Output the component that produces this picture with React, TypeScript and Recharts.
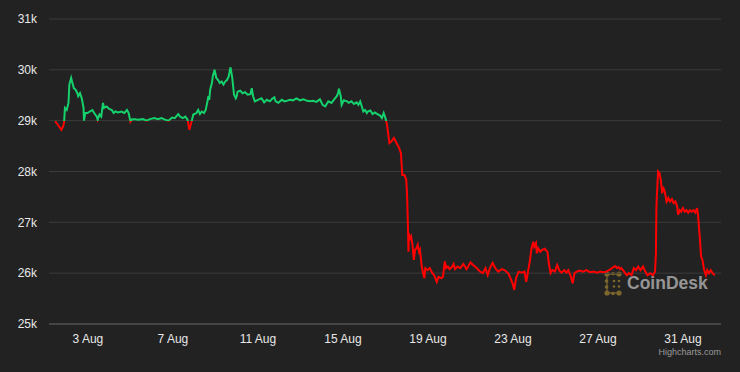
import React from 'react';
import { LineChart, Line, XAxis, YAxis, CartesianGrid } from 'recharts';

// x values: hours since 1 Aug 00:00
const hoursWeek1 = [
  11, 14, 18, 20, 21, 22, 24, 26, 27, 29,
  30, 32, 34, 36, 37, 39, 41, 43, 43.5, 45,
  47.5, 50, 53, 55, 58, 59, 61, 63, 65, 66,
  69, 72, 75, 77, 79, 82, 86, 89, 92, 94,
  96, 98, 101, 104.5, 110, 114, 118, 123, 127, 131,
  135, 139,
];
const pricesWeek1 = [
  28990, 28920, 28820, 28890, 28960, 29250, 29210, 29350, 29710, 29840,
  29770, 29640, 29610, 29540, 29480, 29540, 29440, 29250, 29000, 29150,
  29150, 29180, 29210, 29150, 29080, 29020, 29120, 29080, 29350, 29250,
  29280, 29230, 29210, 29150, 29180, 29160, 29180, 29150, 29210, 29150,
  28980, 29030, 29030, 29020, 29030, 29000, 29030, 29050, 29030, 29050,
  29020, 29000,
];

const hoursWeek2 = [
  143, 146, 150, 152, 155, 158, 160.5, 162.5, 164.5, 167,
  170.5, 172.5, 174.5, 176.5, 179, 181, 183, 184, 185, 186,
  188, 189, 191, 193, 195, 197, 199, 201, 203, 205,
  207, 209, 211, 212, 213, 215, 216, 217, 220, 222.5,
  225.5, 228.5, 231.5, 233, 234.5, 236.5, 240, 244, 247, 250,
  253.5, 256, 258.5, 260, 263, 267, 270,
];
const pricesWeek2 = [
  29060, 29050, 29130, 29080, 29050, 29080, 29020, 28820, 28950, 29120,
  29150, 29210, 29130, 29180, 29150, 29210, 29380, 29480, 29410, 29610,
  29740, 29870, 30000, 29840, 29800, 29740, 29770, 29710, 29770, 29800,
  29870, 30050, 29840, 29670, 29510, 29440, 29480, 29570, 29590, 29540,
  29560, 29510, 29520, 29640, 29480, 29380, 29410, 29440, 29360, 29410,
  29380, 29430, 29460, 29380, 29350, 29410, 29380,
];

const hoursWeek3 = [
  272.5, 276, 279.5, 283.5, 287.5, 291.5, 295.5, 299, 302, 306,
  310, 313, 316, 319.5, 323, 327, 329, 330.5, 331.5, 333.5,
  334.5, 337, 340.5, 342.5, 345.5, 348.5, 351.5, 353.5, 355.5, 357.5,
  359, 361, 363, 364, 367, 369.5, 372, 375, 378, 380,
  382, 384, 385, 386, 387, 388.5, 390.5, 393.5, 396.5, 399.5,
];
const pricesWeek3 = [
  29390, 29410, 29400, 29440, 29400, 29420, 29390, 29380, 29390, 29370,
  29420, 29310, 29280, 29380, 29350, 29440, 29480, 29540, 29630, 29480,
  29310, 29400, 29380, 29350, 29380, 29330, 29360, 29310, 29380, 29270,
  29180, 29210, 29150, 29180, 29200, 29130, 29160, 29130, 29100, 29050,
  29150, 29050, 28980, 28890, 28750, 28560, 28590, 28660, 28560, 28460,
];

const hoursWeek4 = [
  401.5, 403, 405.5, 407.5, 408.5, 409.5, 410, 410.5, 411.5, 413,
  414.5, 416, 417.5, 419, 420.5, 422, 423, 425, 426.5, 428,
  429, 431.5, 434, 437, 439, 442, 444, 447, 449, 451,
  452.5, 454.5, 456.5, 459.5, 461, 462.5, 465.5, 468.5, 472, 475.5,
  477.5, 480, 483, 487, 491, 494, 497, 499.5, 502, 505,
  508, 511.5, 515.5, 518.5, 522.5,
];
const pricesWeek4 = [
  28360, 27930, 27930, 27840, 27510, 26850, 26420, 26790, 26650, 26720,
  26560, 26260, 26460, 26490, 26560, 26420, 26460, 26130, 26000, 25900,
  26100, 26060, 26100, 26000, 25960, 25830, 25930, 25900, 25930, 26230,
  26100, 26130, 26080, 26130, 26180, 26080, 26130, 26100, 26180, 26080,
  26130, 26210, 26160, 26100, 26030, 26000, 26100, 25960, 26100, 26200,
  26100, 26030, 26080, 26060, 26000,
];

const hoursWeek5 = [
  524.5, 527.5, 529.5, 531.5, 534.5, 538, 541, 543, 545, 547,
  549, 551, 552, 554, 555, 556.5, 559, 561, 564, 567,
  568.5, 570.5, 572.5, 575.5, 578, 580.5, 583, 586, 588.5, 590.5,
  593.5, 595.5, 597.5, 600, 603.5, 607, 611, 615, 619, 623,
  626.5, 629.5, 633.5, 636.5, 638.5, 641.5, 643.5, 645.5, 647.5, 649,
];
const pricesWeek5 = [
  25930, 25800, 25670, 25900, 26030, 26010, 26030, 25830, 26030, 26230,
  26490, 26620, 26520, 26590, 26390, 26490, 26420, 26460, 26480, 26420,
  26200, 26000, 26060, 26030, 26160, 26050, 26010, 26060, 26010, 26060,
  25930, 25800, 26000, 26030, 26050, 26030, 26060, 26020, 26030, 26010,
  26030, 26020, 26030, 26060, 26080, 26120, 26140, 26100, 26120, 26080,
];

const hoursWeek6 = [
  650.5, 653.5, 656.5, 659, 662, 664.5, 667, 669.5, 672, 675,
  677.5, 680, 683, 686, 688.5, 689.5, 690, 690.5, 692, 693.5,
  695, 696.5, 697.5, 699.5, 701.5, 703.5, 705.5, 707.5, 709.5, 711.5,
  713.5, 714.5, 716.5, 718, 720, 722, 724, 726, 728, 730,
  732, 734, 736, 737, 739, 740.5, 742, 744, 746, 747.5,
  749.5, 751.5, 753.5, 756,
];
const pricesWeek6 = [
  26100, 26030, 25960, 26000, 25960, 26100, 26060, 26130, 26060, 26130,
  26030, 25960, 26000, 25960, 26030, 26390, 27240, 27510, 28000, 27970,
  27840, 27570, 27700, 27600, 27410, 27480, 27410, 27460, 27380, 27410,
  27310, 27150, 27240, 27210, 27280, 27210, 27240, 27190, 27240, 27210,
  27240, 27190, 27280, 27150, 26720, 26330, 26260, 26060, 25960, 26060,
  26000, 26060, 26000, 25960,
];

const tickHours = [48, 144, 240, 336, 432, 528, 624, 720];
const tickLabels = ['3 Aug', '7 Aug', '11 Aug', '15 Aug', '19 Aug', '23 Aug', '27 Aug', '31 Aug'];
const priceTicks = [25000, 26000, 27000, 28000, 29000, 30000, 31000];
const OPEN_PRICE = 28990;

const allHours = [...hoursWeek1, ...hoursWeek2, ...hoursWeek3, ...hoursWeek4, ...hoursWeek5, ...hoursWeek6];
const allPrices = [...pricesWeek1, ...pricesWeek2, ...pricesWeek3, ...pricesWeek4, ...pricesWeek5, ...pricesWeek6];
const data = allHours.map((h, i) => ({ hour: h, price: allPrices[i] }));

const maxP = Math.max(...allPrices);
const minP = Math.min(...allPrices);
const splitOffset = (maxP - OPEN_PRICE) / (maxP - minP);

const FONT = '"Liberation Sans", Arial, Helvetica, sans-serif';

function Watermark() {
  const gold = '#8f7430';
  const dots = [
    [3, 3, 2.6], [9, 2.5, 1.8], [15, 3, 2.6],
    [2.5, 10, 1.8], [2.5, 16, 1.8], [3, 22, 2.6],
    [9, 22.5, 1.8], [15, 22, 2.6],
    [10, 10, 1.3], [15, 10, 1.3], [10, 15.5, 1.3], [15, 15.5, 1.3],
  ];
  return (
    <svg width={740} height={372} style={{ position: 'absolute', left: 0, top: 0 }}>
      <g transform="translate(604,271)" opacity={0.85}>
        <path d="M3 3 L15 3 M3 3 L3 22 L15 22" stroke={gold} strokeWidth={2.2} fill="none" opacity={0.6} />
        {dots.map((d, i) => (
          <circle key={i} cx={d[0]} cy={d[1]} r={d[2]} fill={gold} />
        ))}
      </g>
      <text x={627} y={289} fill="#959595" fontFamily={FONT} fontWeight="bold" fontSize={17.5}>
        CoinDesk
      </text>
      <text x={721} y={355} fill="#9a9a9a" fontFamily={FONT} fontSize={9} textAnchor="end">
        Highcharts.com
      </text>
    </svg>
  );
}

export default function App() {
  return (
    <div
      style={{
        position: 'fixed',
        left: 0,
        top: 0,
        width: 740,
        height: 372,
        background: '#222222',
        overflow: 'hidden',
        fontFamily: FONT,
      }}
    >
      <Watermark />
      <div style={{ position: 'absolute', left: 0, top: 0 }}>
        <LineChart width={740} height={372} data={data} margin={{ top: 19, right: 19, bottom: 0, left: 0 }}>
          <defs>
            <linearGradient id="priceZone" x1="0" y1="0" x2="0" y2="1">
              <stop offset={splitOffset} stopColor="#14d16c" />
              <stop offset={splitOffset} stopColor="#ff0000" />
            </linearGradient>
          </defs>
          <CartesianGrid vertical={false} stroke="#3b3b3b" />
          <XAxis
            dataKey="hour"
            type="number"
            domain={[4, 763]}
            ticks={tickHours}
            tickFormatter={(v: number) => tickLabels[tickHours.indexOf(v)]}
            height={48}
            tickLine={false}
            tickSize={0}
            tickMargin={10}
            axisLine={{ stroke: '#5c5c5c' }}
            tick={{ fill: '#e8e8e8', fontSize: 12, fontFamily: FONT }}
            allowDataOverflow
          />
          <YAxis
            type="number"
            domain={[25000, 31000]}
            ticks={priceTicks}
            tickFormatter={(v: number) => `${v / 1000}k`}
            width={49}
            tickLine={false}
            axisLine={false}
            tickSize={0}
            tickMargin={12}
            tick={{ fill: '#e8e8e8', fontSize: 12, fontFamily: FONT }}
          />
          <Line
            type="linear"
            dataKey="price"
            stroke="url(#priceZone)"
            strokeWidth={2}
            dot={false}
            isAnimationActive={false}
          />
        </LineChart>
      </div>
    </div>
  );
}
